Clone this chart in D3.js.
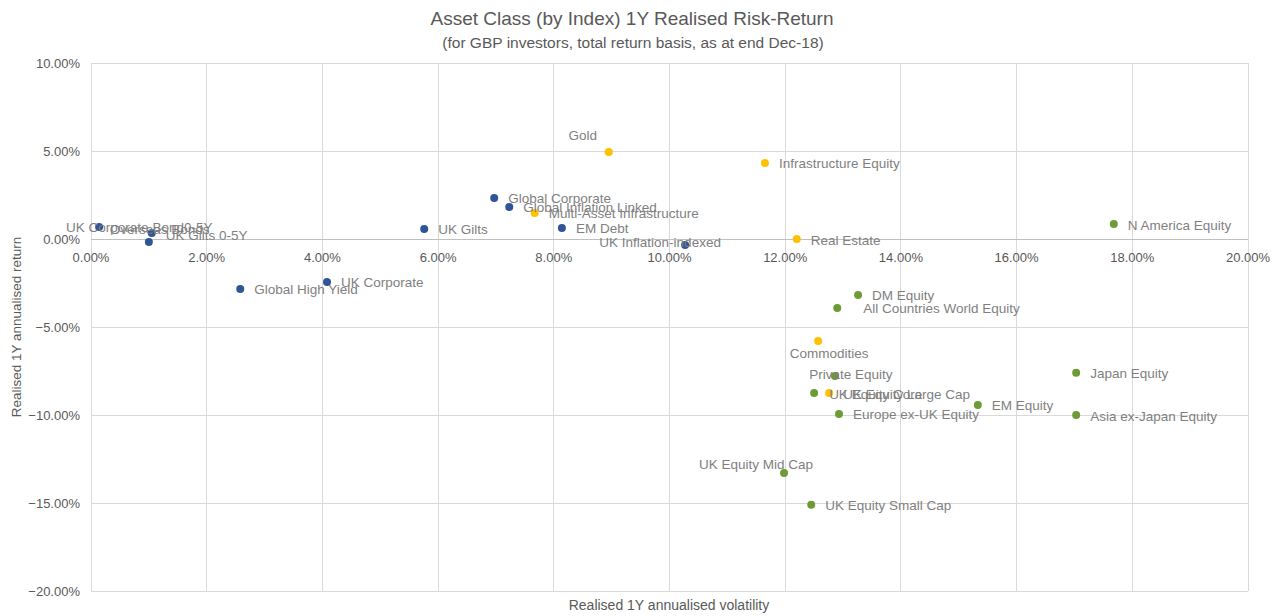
<!DOCTYPE html>
<html>
<head>
<meta charset="utf-8">
<script src="https://cdn.jsdelivr.net/npm/d3@7"></script>
<style>
  body { margin: 0; background: #fff; }
  svg { font-family: "Liberation Sans", Arial, sans-serif; }
</style>
</head>
<body>
<div id="chart"></div>
<script>
// asset classes, volatility (x) and return (y), both as fractions
const names = [
  "UK Corporate Bond0-5Y", "Overseas Bonds", "UK Gilts 0-5Y", "Global High Yield",
  "UK Corporate", "UK Gilts", "Global Corporate", "Global Inflation Linked",
  "EM Debt", "UK Inflation-indexed",
  "Multi-Asset Infrastructure", "Gold", "Infrastructure Equity", "Real Estate",
  "Commodities", "UK Equity Large Cap",
  "N America Equity", "DM Equity", "All Countries World Equity", "Private Equity",
  "Japan Equity", "UK Equity Core", "EM Equity", "Europe ex-UK Equity",
  "Asia ex-Japan Equity", "UK Equity Mid Cap", "UK Equity Small Cap"
];
const volatility = [
  0.0014, 0.0105, 0.0100, 0.0258,
  0.0408, 0.0576, 0.0697, 0.0723,
  0.0814, 0.1027,
  0.0767, 0.0895, 0.1165, 0.1220,
  0.1257, 0.1276,
  0.1768, 0.1326, 0.1290, 0.1286,
  0.1703, 0.1250, 0.1533, 0.1293,
  0.1703, 0.1198, 0.1245
];
const returns = [
  0.0068, 0.0034, -0.0017, -0.0284,
  -0.0244, 0.0057, 0.0233, 0.0182,
  0.0063, -0.0034,
  0.0148, 0.0494, 0.0432, 0.0000,
  -0.0580, -0.0875,
  0.0085, -0.0318, -0.0392, -0.0778,
  -0.0760, -0.0875, -0.0943, -0.0994,
  -0.1000, -0.1330, -0.1510
];
const groups = [
  "bond", "bond", "bond", "bond",
  "bond", "bond", "bond", "bond",
  "bond", "bond",
  "alt", "alt", "alt", "alt",
  "alt", "alt",
  "eq", "eq", "eq", "eq",
  "eq", "eq", "eq", "eq",
  "eq", "eq", "eq"
];
const xTicks = [0, 0.02, 0.04, 0.06, 0.08, 0.10, 0.12, 0.14, 0.16, 0.18, 0.20];
const yTicks = [0.10, 0.05, 0, -0.05, -0.10, -0.15, -0.20];

const colors = { bond: "#2F5597", alt: "#FFC000", eq: "#6E9B37" };

// where labels sit relative to their marker (default: right of it)
const labelPlace = {
  "UK Corporate Bond0-5Y": { dx: -33, dy: 0, anchor: "start" },
  "Overseas Bonds": { dx: -42, dy: -4, anchor: "start" },
  "UK Gilts 0-5Y": { dx: 17, dy: -6, anchor: "start" },
  "Gold": { dx: -26, dy: -17, anchor: "middle" },
  "UK Inflation-indexed": { dx: -25, dy: -2, anchor: "middle" },
  "Commodities": { dx: 11, dy: 12, anchor: "middle" },
  "Private Equity": { dx: 16, dy: -1, anchor: "middle" },
  "UK Equity Mid Cap": { dx: -28, dy: -9, anchor: "middle" },
  "All Countries World Equity": { dx: 26, dy: 1, anchor: "start" },
  "UK Equity Core": { dx: 15, dy: 1, anchor: "start" }
};

const data = names.map((n, i) => ({ name: n, x: volatility[i], y: returns[i], g: groups[i] }));

const W = 1281, H = 616;
const svg = d3.select("#chart").append("svg").attr("width", W).attr("height", H);

const x = d3.scaleLinear().domain([0, 0.2]).range([91, 1248]);
const y = d3.scaleLinear().domain([-0.2, 0.1]).range([591, 63]);
const pct = d3.format(".2%");

// gridlines
svg.append("g").selectAll("line.v").data(xTicks).join("line")
  .attr("x1", d => x(d)).attr("x2", d => x(d))
  .attr("y1", y(0.1)).attr("y2", y(-0.2))
  .attr("stroke", "#D9D9D9").attr("stroke-width", 1).attr("shape-rendering", "crispEdges");
svg.append("g").selectAll("line.h").data(yTicks).join("line")
  .attr("x1", x(0)).attr("x2", x(0.2))
  .attr("y1", d => y(d)).attr("y2", d => y(d))
  .attr("stroke", d => d === 0 ? "#BFBFBF" : "#D9D9D9").attr("stroke-width", 1)
  .attr("shape-rendering", "crispEdges");

// tick labels
svg.append("g").selectAll("text").data(yTicks).join("text")
  .attr("x", 80).attr("y", d => y(d) + 4.5)
  .attr("text-anchor", "end").attr("font-size", 13).attr("fill", "#595959")
  .text(d => pct(d));
svg.append("g").selectAll("text").data(xTicks).join("text")
  .attr("x", d => x(d)).attr("y", y(0) + 23)
  .attr("text-anchor", "middle").attr("font-size", 13).attr("fill", "#595959")
  .text(d => pct(d));

// titles
svg.append("text").attr("x", 632).attr("y", 25).attr("text-anchor", "middle")
  .attr("font-size", 19).attr("fill", "#595959")
  .text("Asset Class (by Index) 1Y Realised Risk-Return");
svg.append("text").attr("x", 633).attr("y", 48).attr("text-anchor", "middle")
  .attr("font-size", 15.5).attr("fill", "#595959")
  .text("(for GBP investors, total return basis, as at end Dec-18)");
svg.append("text").attr("x", 669).attr("y", 610).attr("text-anchor", "middle")
  .attr("font-size", 14).attr("fill", "#595959")
  .text("Realised  1Y annualised volatility");
svg.append("text").attr("transform", "translate(21,327) rotate(-90)").attr("text-anchor", "middle")
  .attr("font-size", 13.5).attr("fill", "#595959")
  .text("Realised 1Y annualised return");

// markers
svg.append("g").selectAll("circle").data(data).join("circle")
  .attr("cx", d => x(d.x)).attr("cy", d => y(d.y)).attr("r", 4)
  .attr("fill", d => colors[d.g]);

// data labels
svg.append("g").selectAll("text").data(data).join("text")
  .attr("x", d => x(d.x) + (labelPlace[d.name] ? labelPlace[d.name].dx : 14))
  .attr("y", d => y(d.y) + 4.5 + (labelPlace[d.name] ? labelPlace[d.name].dy : 1))
  .attr("text-anchor", d => labelPlace[d.name] ? labelPlace[d.name].anchor : "start")
  .attr("font-size", 13.5).attr("fill", "#7F7F7F")
  .text(d => d.name);
</script>
</body>
</html>
